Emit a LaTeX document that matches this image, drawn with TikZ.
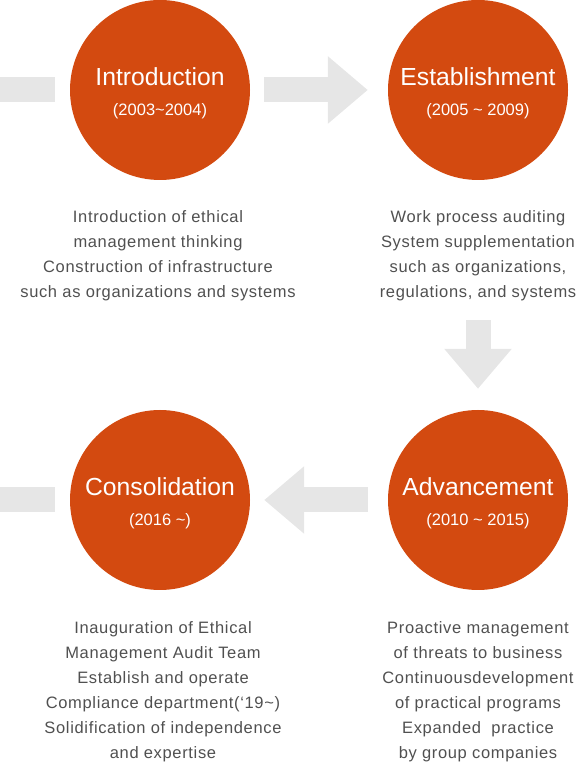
\documentclass[tikz,border=0pt]{standalone}
\usepackage{fontspec}
\setmainfont{Liberation Sans}
\newfontfamily\descfont[LetterSpace=4]{Liberation Sans}
\usetikzlibrary{positioning,arrows.meta}

\begin{document}
\begin{tikzpicture}[x=1pt, y=1pt,
  phase/.style={circle, fill=orangefonce, minimum size=180pt, inner sep=0pt},
  titre/.style={font=\fontsize{24.7}{28}\selectfont, text=white, inner sep=0pt},
  annees/.style={font=\fontsize{16.5}{20}\selectfont, text=white, inner sep=0pt},
  texte/.style={font=\descfont\fontsize{16.5}{25}\selectfont, text=grisfonce, align=center, inner sep=0pt},
  fleche/.style={draw=grisclair, line width=25pt, -{Triangle[length=40pt,width=65pt]}},
  barre/.style={draw=grisclair, line width=25pt}]
  % Définition des couleurs
  \definecolor{orangefonce}{RGB}{211,74,16}
  \definecolor{grisclair}{RGB}{230,230,230}
  \definecolor{grisfonce}{RGB}{80,80,80}

  \useasboundingbox (0,0) rectangle (577,762);

  % Cercles des phases
  \node[phase] (intro) at (160,672) {};
  \node[phase] (estab) at (478,672) {};
  \node[phase] (adv) at (478,262) {};
  \node[phase] (conso) at (160,262) {};

  % --- Titres et années ---
  \node[titre] (introT) at ([yshift=13pt]intro.center) {Introduction};
  \node[annees] (introA) at ([yshift=-21pt]intro.center) {(2003\textasciitilde2004)};
  \node[titre] (estabT) at ([yshift=13pt]estab.center) {Establishment};
  \node[annees] (estabA) at ([yshift=-21pt]estab.center) {(2005 \textasciitilde\ 2009)};
  \node[titre] (advT) at ([yshift=13pt]adv.center) {Advancement};
  \node[annees] (advA) at ([yshift=-21pt]adv.center) {(2010 \textasciitilde\ 2015)};
  \node[titre] (consoT) at ([yshift=13pt]conso.center) {Consolidation};
  \node[annees] (consoA) at ([yshift=-21pt]conso.center) {(2016 \textasciitilde)};

  % --- Textes sous les cercles ---
  \node[texte, below=30pt of intro, xshift=-2pt] (introD) {Introduction of ethical\\ management thinking\\ Construction of infrastructure\\ such as organizations and systems};
  \node[texte, below=30pt of estab] (estabD) {Work process auditing\\ System supplementation\\ such as organizations,\\ regulations, and systems};
  \node[texte, below=31pt of adv] (advD) {Proactive management\\ of threats to business\\ Continuousdevelopment\\ of practical programs\\ Expanded\ \ practice\\ by group companies};
  \node[texte, below=31pt of conso, xshift=3pt] (consoD) {Inauguration of Ethical\\ Management Audit Team\\ Establish and operate\\ Compliance department(‘19\textasciitilde)\\ Solidification of independence\\ and expertise};

  % --- Flèches grises ---
  \coordinate (debutH) at (0,672);
  \coordinate (debutB) at (0,262);
  \draw[barre, shorten >=15pt] (debutH) -- (intro);
  \draw[fleche, shorten <=14pt, shorten >=20pt] (intro) -- (estab);
  \draw[fleche, shorten <=140pt, shorten >=21pt] (estab) -- (adv);
  \draw[fleche, shorten <=20pt, shorten >=14pt] (adv) -- (conso);
  \draw[barre, shorten >=15pt] (debutB) -- (conso);

\end{tikzpicture}
\end{document}
